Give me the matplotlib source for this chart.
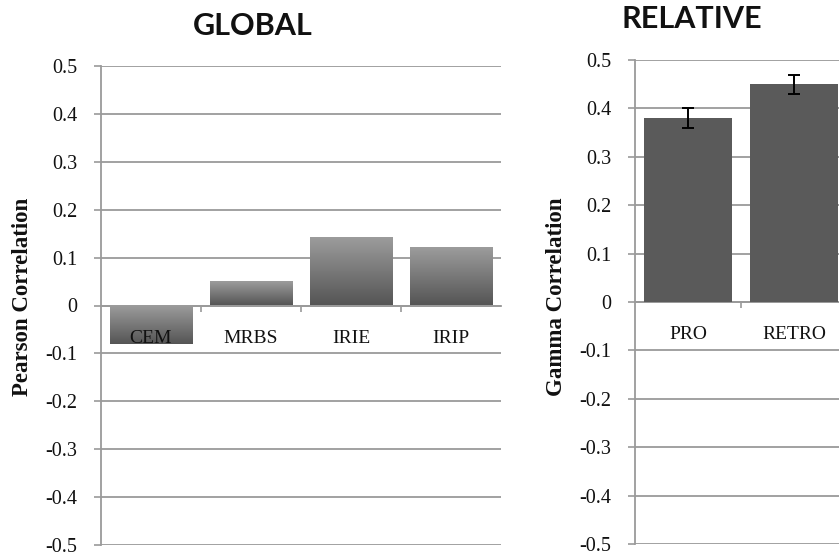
import matplotlib
matplotlib.use("Agg")
import matplotlib.pyplot as plt
import numpy as np
from matplotlib.colors import LinearSegmentedColormap

global_labels = ["CEM", "MRBS", "IRIE", "IRIP"]
global_values = [-0.08, 0.05, 0.14, 0.12]
relative_labels = ["PRO", "RETRO"]
relative_values = [0.38, 0.45]
relative_errors = [0.02, 0.02]
yticks = [-0.5, -0.4, -0.3, -0.2, -0.1, 0, 0.1, 0.2, 0.3, 0.4, 0.5]
ytick_labels = ["-0.5", "-0.4", "-0.3", "-0.2", "-0.1", "0", "0.1", "0.2", "0.3", "0.4", "0.5"]

W, H = 839, 554
fig = plt.figure(figsize=(W / 100, H / 100), dpi=100)

serif = ["Liberation Serif", "DejaVu Serif"]
grid_c = "#9a9a9a"
cmap = LinearSegmentedColormap.from_list("g", ["#555555", "#9c9c9c"])


def style(ax, labels):
    ax.set_ylim(-0.5, 0.5)
    ax.set_yticks(yticks)
    ax.set_yticklabels(ytick_labels, family=serif, fontsize=14.5, color="#111111")
    ax.yaxis.grid(True, color=grid_c, linewidth=1.3)
    ax.set_axisbelow(True)
    for s in ["top", "right"]:
        ax.spines[s].set_visible(False)
    ax.spines["left"].set_color(grid_c)
    ax.spines["left"].set_linewidth(1.3)
    ax.spines["bottom"].set_position(("data", 0))
    ax.spines["bottom"].set_color(grid_c)
    ax.spines["bottom"].set_linewidth(1.3)
    n = len(labels)
    ax.set_xlim(-0.5, n - 0.5)
    ax.set_xticks(np.arange(n))
    ax.set_xticklabels([])
    ax.tick_params(axis="x", length=0)
    ax.set_xticks(np.arange(n - 1) + 0.5, minor=True)
    ax.tick_params(axis="x", which="minor", length=4, color=grid_c, width=1.2, direction="out")
    ax.tick_params(axis="y", length=5, color=grid_c, width=1.2, pad=12)
    for xv, lab in zip(np.arange(n), labels):
        ax.annotate(lab, xy=(xv, 0), xytext=(0, -23.5), textcoords="offset points",
                    ha="center", va="center", family=serif, fontsize=14,
                    color="#111111", zorder=6, annotation_clip=False)


# GLOBAL
ax1 = fig.add_axes([101 / W, 1 - 545 / H, 400 / W, 479 / H])
x1 = np.arange(len(global_labels))
bw = 0.83
bars = ax1.bar(x1, global_values, width=bw, color="none", edgecolor="none", zorder=3)
grad = np.linspace(0, 1, 100).reshape(-1, 1)
for xv, v in zip(x1, global_values):
    lo, hi = min(0, v), max(0, v)
    ax1.imshow(grad, cmap=cmap, origin="lower", aspect="auto",
               extent=[xv - bw / 2, xv + bw / 2, lo, hi], zorder=3)
style(ax1, global_labels)
ax1.set_ylabel("Pearson Correlation", family=serif, fontsize=16.5, fontweight="bold",
               color="#111111")
ax1.yaxis.set_label_coords((33 - 101) / 400, (545 - 297) / 479)
fig.text(253 / W, 1 - 26 / H, "GLOBAL", ha="center", va="center",
         family=["Lato", "DejaVu Sans"], fontweight="bold", fontsize=22, color="#111111")

# RELATIVE
ax2 = fig.add_axes([635 / W, 1 - 544 / H, 212 / W, 484 / H])
x2 = np.arange(len(relative_labels))
ax2.bar(x2, relative_values, width=bw, color="#5a5a5a", zorder=3,
        yerr=relative_errors, capsize=4,
        error_kw=dict(ecolor="black", elinewidth=1.4, capthick=1.4, zorder=4))
style(ax2, relative_labels)
ax2.set_ylabel("Gamma Correlation", family=serif, fontsize=16.5, fontweight="bold",
               color="#111111")
ax2.yaxis.set_label_coords((567 - 635) / 212, (544 - 297) / 484)
fig.text(692 / W, 1 - 19 / H, "RELATIVE", ha="center", va="center",
         family=["Lato", "DejaVu Sans"], fontweight="bold", fontsize=22, color="#111111")

fig.savefig("out.png", dpi=100)
